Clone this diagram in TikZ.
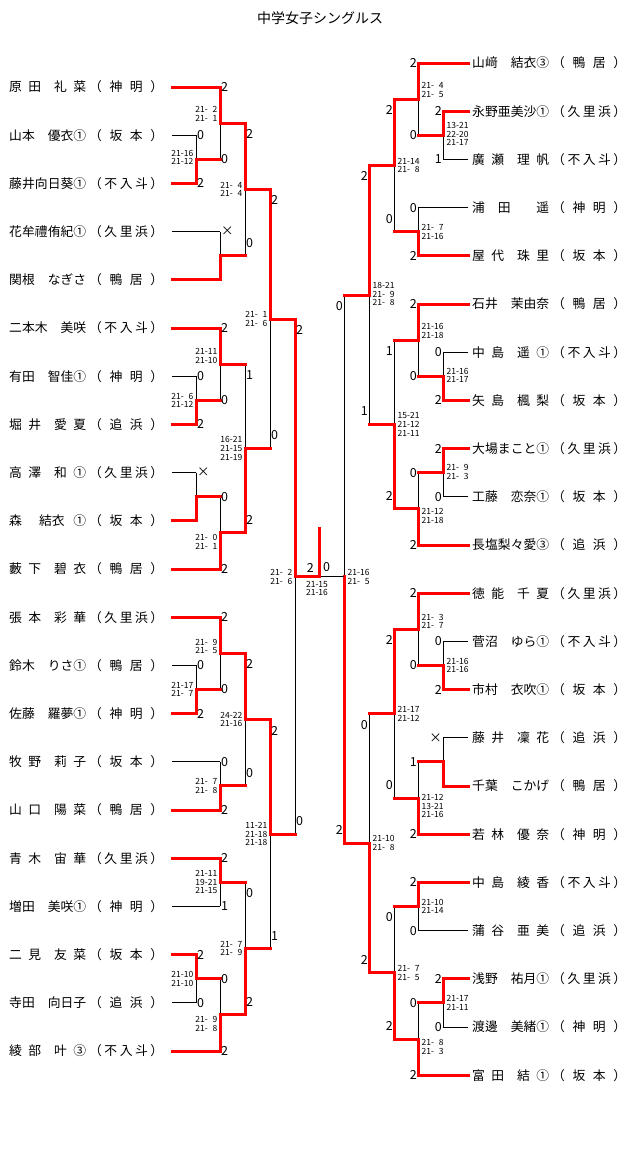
\documentclass[tikz,border=0pt]{standalone}
\usepackage{fontspec}
\setmainfont{Noto Sans CJK JP}
\usepackage{tikz}
\usetikzlibrary{calc}
\newcommand\hf{\hfill}
\newcommand\pname[1]{\makebox[77pt][s]{#1}}
\newcommand\pschool[1]{\makebox[74pt][s]{（\hfill#1\hfill）}}

\begin{document}
\begin{tikzpicture}[
		x=1pt, y=-1pt,
		player/.style={anchor=west, inner sep=0pt, font=\fontsize{12.8}{14}\selectfont},
		lbl/.style={inner sep=0pt, font=\fontsize{12.5}{12.5}\selectfont},
		res/.style={inner sep=0pt, font=\fontsize{8.5}{8.6}\selectfont},
		win/.style={red, line width=3pt, line cap=rect},
		lose/.style={black, line width=0.8pt}
	]
	\useasboundingbox (0,0) rectangle (640,1157);

	\node (title) at (320,18) {\fontsize{14}{14}\selectfont 中学女子シングルス};

	% --- Players on the left ---
	\foreach \nm/\sch [count=\i from 0] in {
			原\hf 田\hf\hf 礼\hf 菜/神\hf 明, 山本\hf 優衣①/坂\hf 本, 藤井\hf 向日葵①/不\hf 入\hf 斗,
			花牟禮\hf 侑紀①/久\hf 里\hf 浜, 関根\hf なぎさ/鴨\hf 居, 二本木\hf 美咲/不\hf 入\hf 斗,
			有田\hf 智佳①/神\hf 明, 堀\hf 井\hf\hf 愛\hf 夏/追\hf 浜, 高\hf 澤\hf\hf 和\hf ①/久\hf 里\hf 浜,
			森\hf\hf 結衣\hf ①/坂\hf 本, 藪\hf 下\hf\hf 碧\hf 衣/鴨\hf 居, 張\hf 本\hf\hf 彩\hf 華/久\hf 里\hf 浜,
			鈴木\hf りさ①/鴨\hf 居, 佐藤\hf 羅夢①/神\hf 明, 牧\hf 野\hf\hf 莉\hf 子/坂\hf 本,
			山\hf 口\hf\hf 陽\hf 菜/鴨\hf 居, 青\hf 木\hf\hf 宙\hf 華/久\hf 里\hf 浜, 増田\hf 美咲①/神\hf 明,
			二\hf 見\hf\hf 友\hf 菜/坂\hf 本, 寺田\hf 向日子/追\hf 浜, 綾\hf 部\hf\hf 叶\hf ③/不\hf 入\hf 斗}
		{
			\node[player] (a\i) at (9,{87+48.2*\i}) {\pname{\nm}\hspace{3pt}\pschool{\sch}};
			\coordinate (e\i) at (172,{87+48.2*\i});
		}

	% --- Players on the right ---
	\foreach \nm/\sch [count=\i from 0] in {
			山﨑\hf 結衣③/鴨\hf 居, 永野\hf 亜美沙①/久\hf 里\hf 浜, 廣\hf 瀬\hf\hf 理\hf 帆/不\hf 入\hf 斗,
			浦\hf 田\hf\hf 遥/神\hf 明, 屋\hf 代\hf\hf 珠\hf 里/坂\hf 本, 石井\hf 茉由奈/鴨\hf 居,
			中\hf 島\hf\hf 遥\hf ①/不\hf 入\hf 斗, 矢\hf 島\hf\hf 楓\hf 梨/坂\hf 本, 大場\hf まこと①/久\hf 里\hf 浜,
			工藤\hf 恋奈①/坂\hf 本, 長塩\hf 梨々愛③/追\hf 浜, 徳\hf 能\hf\hf 千\hf 夏/久\hf 里\hf 浜,
			菅沼\hf ゆら①/不\hf 入\hf 斗, 市村\hf 衣吹①/坂\hf 本, 藤\hf 井\hf\hf 凜\hf 花/追\hf 浜,
			千葉\hf こかげ/鴨\hf 居, 若\hf 林\hf\hf 優\hf 奈/神\hf 明, 中\hf 島\hf\hf 綾\hf 香/不\hf 入\hf 斗,
			蒲\hf 谷\hf\hf 亜\hf 美/追\hf 浜, 浅野\hf 祐月①/久\hf 里\hf 浜, 渡邊\hf 美緒①/神\hf 明,
			富\hf 田\hf\hf 結\hf ①/坂\hf 本}
		{
			\node[player] (b\i) at (472,{63+48.2*\i}) {\pname{\nm}\hspace{3pt}\pschool{\sch}};
			\coordinate (f\i) at (468,{63+48.2*\i});
		}

	% --- Match junctions ---
	\foreach \mm/\px/\py in {
			m1/196/159.3, m2/220/123.1, m3/220/255.7, m4/245/189.4, m5/196/400.3,
			m6/220/364.2, m7/196/496.7, m8/220/532.9, m9/245/448.5, m10/270/319,
			m11/196/689.5, m12/220/653.4, m13/220/785.9, m14/245/719.6, m15/220/882.3,
			m16/196/978.7, m17/220/1014.9, m18/245/948.6, m19/270/834.1, m20/295/576.7,
			n1/443/135.3, n2/418/99.2, n3/418/231.7, n4/394/165.4, n5/443/376.3,
			n6/418/340.2, n7/443/472.7, n8/418/508.9, n9/394/424.5, n10/369/295,
			n11/443/665.5, n12/418/629.3, n13/443/761.9, n14/418/798, n15/394/713.7,
			n16/418/906.5, n17/443/1002.9, n18/418/1039, n19/394/972.8, n20/369/843.2,
			n21/344/576.7}
		{\coordinate (\mm) at (\px,\py);}

	% --- Left bracket ---
	\foreach \mm/\ii/\jj/\ww/\lo/\lst/\la/\lb/\oo/\dy/\res in {
			m1/e1/e2/e2/e1/lose/0/2/0/-2/{21-16\\21-12},
			m2/e0/m1/e0/m1/win/2/0/0/-9/{21-\phantom{1}2\\21-\phantom{1}1},
			m3/e3/e4/e4/e3/lose/×/{}/0/0/{},
			m4/m2/m3/m2/m3/win/2/0/1/0/{21-\phantom{1}4\\21-\phantom{1}4},
			m5/e6/e7/e7/e6/lose/0/2/0/0/{21-\phantom{1}6\\21-12},
			m6/e5/m5/e5/m5/win/2/0/0/-8/{21-11\\21-10},
			m7/e8/e9/e9/e8/lose/×/{}/0/0/{},
			m8/m7/e10/e10/m7/win/0/2/0/9/{21-\phantom{1}0\\21-\phantom{1}1},
			m9/m6/m8/m8/m6/win/1/2/1/0/{16-21\\21-15\\21-19},
			m10/m4/m9/m4/m9/win/2/0/1/0/{21-\phantom{1}1\\21-\phantom{1}6},
			m11/e12/e13/e13/e12/lose/0/2/0/0/{21-17\\21-\phantom{1}7},
			m12/e11/m11/e11/m11/win/2/0/0/-7/{21-\phantom{1}9\\21-\phantom{1}5},
			m13/e14/e15/e15/e14/lose/0/2/0/0/{21-\phantom{1}7\\21-\phantom{1}8},
			m14/m12/m13/m12/m13/win/2/0/1/0/{24-22\\21-16},
			m15/e16/e17/e16/e17/lose/2/1/0/0/{21-11\\19-21\\21-15},
			m16/e18/e19/e18/e19/lose/2/0/0/0/{21-10\\21-10},
			m17/m16/e20/e20/m16/win/0/2/0/9/{21-\phantom{1}9\\21-\phantom{1}8},
			m18/m15/m17/m17/m15/win/0/2/1/0/{21-\phantom{1}7\\21-\phantom{1}9},
			m19/m14/m18/m14/m18/win/2/1/1/0/{11-21\\21-18\\21-18},
			m20/m10/m19/m10/m19/win/2/0/1/0/{21-\phantom{1}2\\21-\phantom{1}6}}
		{
			\draw[lose] (\mm |- \ii) -- (\mm |- \jj);
			\draw[\lst] (\lo) -- (\mm |- \lo);
			\draw[win] (\ww) -- (\mm |- \ww) -- (\mm);
			\node[lbl, anchor=west, xshift=1pt, yshift={-11*\oo}] (\mm-t) at (\mm |- \ii) {\la};
			\node[lbl, anchor=west, xshift=1pt, yshift={13*\oo}] (\mm-b) at (\mm |- \jj) {\lb};
			\node[res, anchor=east, align=right] (\mm-s) at ($(\mm)+(-2.5,\dy)$) {\res};
		}

	% --- Right bracket ---
	\foreach \mm/\ii/\jj/\ww/\lo/\lst/\la/\lb/\oo/\dy/\res in {
			n1/f1/f2/f1/f2/lose/2/1/0/-1/{13-21\\22-20\\21-17},
			n2/f0/n1/f0/n1/win/2/0/0/-9/{21-\phantom{1}4\\21-\phantom{1}5},
			n3/f3/f4/f4/f3/lose/0/2/0/0/{21-\phantom{1}7\\21-16},
			n4/n2/n3/n2/n3/win/2/0/1/0/{21-14\\21-\phantom{1}8},
			n5/f6/f7/f7/f6/lose/0/2/0/-1/{21-16\\21-17},
			n6/f5/n5/f5/n5/win/2/0/0/-9/{21-16\\21-18},
			n7/f8/f9/f8/f9/lose/2/0/0/-1/{21-\phantom{1}9\\21-\phantom{1}3},
			n8/n7/f10/f10/n7/win/0/2/0/7/{21-12\\21-18},
			n9/n6/n8/n8/n6/win/1/2/1/0/{15-21\\21-12\\21-11},
			n10/n4/n9/n4/n9/win/2/1/1/-1/{18-21\\21-\phantom{1}9\\21-\phantom{1}8},
			n11/f12/f13/f13/f12/lose/0/2/0/0/{21-16\\21-16},
			n12/f11/n11/f11/n11/win/2/0/0/-8/{21-\phantom{1}3\\21-\phantom{1}7},
			n13/f14/f15/f15/f14/lose/×/{}/0/0/{},
			n14/n13/f16/f16/n13/win/1/2/0/8/{21-12\\13-21\\21-16},
			n15/n12/n14/n12/n14/win/2/0/1/0/{21-17\\21-12},
			n16/f17/f18/f17/f18/lose/2/0/0/0/{21-10\\21-14},
			n17/f19/f20/f19/f20/lose/2/0/0/0/{21-17\\21-11},
			n18/n17/f21/f21/n17/win/0/2/0/8/{21-\phantom{1}8\\21-\phantom{1}3},
			n19/n16/n18/n18/n16/win/0/2/1/0/{21-\phantom{1}7\\21-\phantom{1}5},
			n20/n15/n19/n19/n15/win/0/2/1/0/{21-10\\21-\phantom{1}8},
			n21/n10/n20/n20/n10/win/0/2/1/0/{21-16\\21-\phantom{1}5}}
		{
			\draw[lose] (\mm |- \ii) -- (\mm |- \jj);
			\draw[\lst] (\lo) -- (\mm |- \lo);
			\draw[win] (\ww) -- (\mm |- \ww) -- (\mm);
			\node[lbl, anchor=east, xshift=-1pt, yshift={-11*\oo}] (\mm-t) at (\mm |- \ii) {\la};
			\node[lbl, anchor=east, xshift=-1pt, yshift={13*\oo}] (\mm-b) at (\mm |- \jj) {\lb};
			\node[res, anchor=west, align=left] (\mm-s) at ($(\mm)+(3.5,\dy)$) {\res};
		}

	% --- Final ---
	\coordinate (c) at (319,576.7);
	\coordinate (ctop) at (319,528);
	\draw[lose] (n21) -- (c);
	\draw[win] (m20) -- (c) -- (ctop);
	\node[lbl, anchor=south east] (c-l) at ($(c)+(-5,-4.5)$) {2};
	\node[lbl, anchor=south west] (c-r) at ($(c)+(4,-4.5)$) {0};
	\node[res, anchor=north, align=center] (c-s) at ($(c)+(-2,4)$) {21-15\\21-16};

\end{tikzpicture}
\end{document}
